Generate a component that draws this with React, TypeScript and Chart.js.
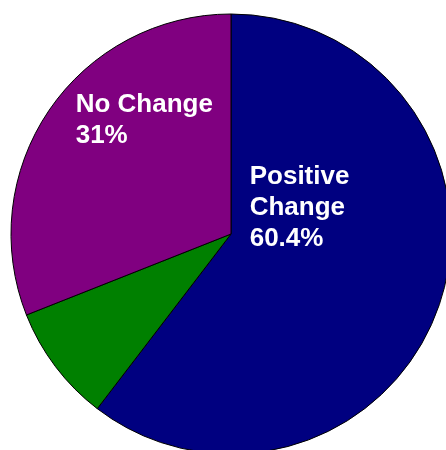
import React, { useEffect, useRef } from "react";
import { Chart, registerables } from "chart.js";

Chart.register(...registerables);

const categories = ["Positive Change", "Negative Change", "No Change"];
const values = [60.4, 8.6, 31];
const colors = ["#000080", "#008000", "#800080"];
const labelLines = [["Positive", "Change", "60.4%"], [], ["No Change", "31%"]];
// label anchor (left, first baseline) as fractions of the outer radius from the pie centre
const labelOffsets = [
  [0.085, -0.227],
  [0, 0],
  [-0.706, -0.5545],
];

const labelPlugin = {
  id: "sliceLabels",
  afterDatasetsDraw(chart: any) {
    const ctx = chart.ctx;
    const meta = chart.getDatasetMeta(0);
    ctx.save();
    ctx.fillStyle = "#ffffff";
    ctx.font = "bold 26px 'Liberation Sans', Arial, sans-serif";
    ctx.textAlign = "left";
    ctx.textBaseline = "alphabetic";
    meta.data.forEach((arc: any, i: number) => {
      const { x, y, outerRadius } = arc.getProps(["x", "y", "outerRadius"], true);
      const lines = labelLines[i];
      const [dx, dy] = labelOffsets[i];
      lines.forEach((line: string, j: number) => {
        ctx.fillText(line, x + dx * outerRadius, y + dy * outerRadius + j * 31);
      });
    });
    ctx.restore();
  },
};

export default function App() {
  const ref = useRef<HTMLCanvasElement>(null);
  useEffect(() => {
    if (!ref.current) return;
    const chart = new Chart(ref.current, {
      type: "pie",
      data: {
        labels: categories,
        datasets: [
          {
            data: values,
            backgroundColor: colors,
            borderColor: "#000000",
            borderWidth: 1,
            hoverOffset: 0,
          },
        ],
      },
      options: {
        responsive: false,
        animation: false,
        radius: 220,
        layout: { padding: 0 },
        plugins: {
          legend: { display: false },
          tooltip: { enabled: false },
        },
      } as any,
      plugins: [labelPlugin],
    });
    return () => chart.destroy();
  }, []);
  return (
    <div
      style={{
        position: "fixed",
        left: 0,
        top: 0,
        width: 446,
        height: 450,
        overflow: "hidden",
        background: "#ffffff",
      }}
    >
      <canvas ref={ref} width={462} height={468} style={{ display: "block" }} />
    </div>
  );
}
